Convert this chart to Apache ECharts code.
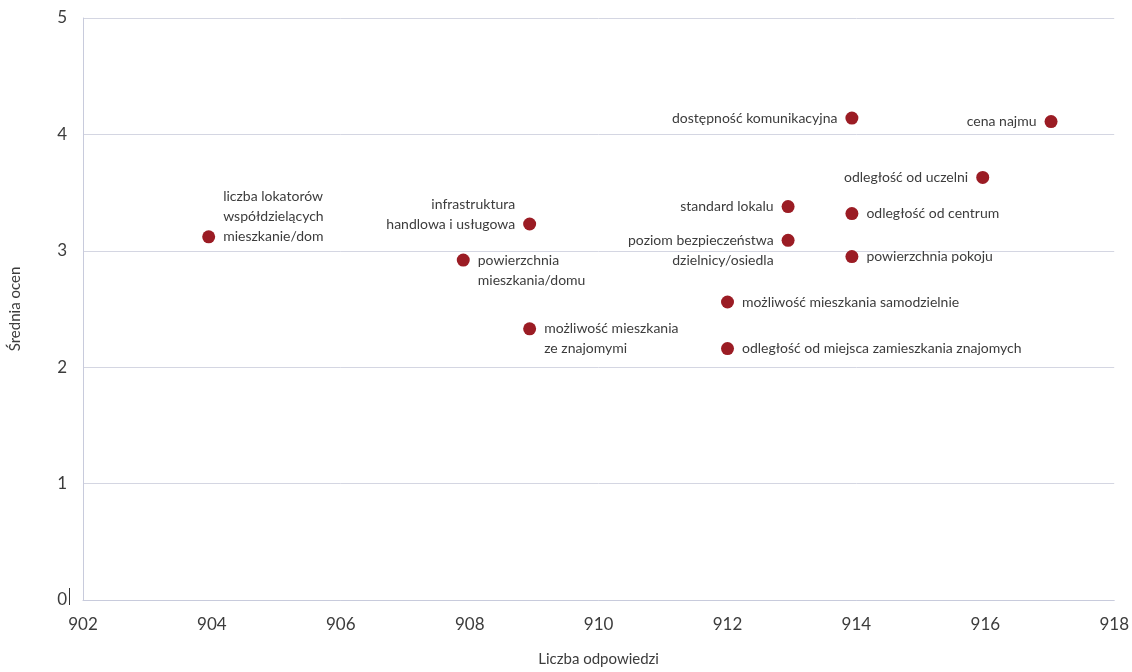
<!DOCTYPE html>
<html><head><meta charset="utf-8">
<script src="https://cdn.jsdelivr.net/npm/echarts@6/dist/echarts.min.js"></script>
<style>html,body{margin:0;padding:0;background:#fff}#c{width:1132px;height:672px}</style>
</head><body><div id="c"></div>
<script>
const factors = ['liczba lokatorów\nwspółdzielących\nmieszkanie/dom','infrastruktura\nhandlowa i usługowa','powierzchnia\nmieszkania/domu','możliwość mieszkania\nze znajomymi','dostępność komunikacyjna','cena najmu','odległość od uczelni','standard lokalu','odległość od centrum','poziom bezpieczeństwa\ndzielnicy/osiedla','powierzchnia pokoju','możliwość mieszkania samodzielnie','odległość od miejsca zamieszkania znajomych'];
const responses = [903.95, 908.93, 907.9, 908.93, 913.93, 917.02, 915.96, 912.94, 913.93, 912.94, 913.93, 912.0, 912.0];
const meanScores = [3.12, 3.23, 2.92, 2.33, 4.14, 4.11, 3.63, 3.38, 3.32, 3.09, 2.95, 2.56, 2.16];
const xTicks = ['902','904','906','908','910','912','914','916','918'];
const yTicks = ['0','1','2','3','4','5'];

// label placement per point: side and vertical anchoring (first/last line at dot)
const placement = [
  ['right','last'],['left','last'],['right','first'],['right','first'],
  ['left','mid'],['left','mid'],['left','mid'],['left','mid'],
  ['right','mid'],['left','first'],['right','mid'],['right','mid'],['right','mid']
];
const LH = 20;
const data = factors.map((n,i)=>{
  const lines = n.split('\n').length;
  const [side, anchor] = placement[i];
  let dy = 0;
  if (anchor==='first') dy = (lines-1)*LH/2;
  if (anchor==='last') dy = -(lines-1)*LH/2;
  return {
    value:[responses[i], meanScores[i]], name:n,
    label:{show:true, position:side, distance:8, offset:[0,dy], formatter:n}
  };
});

const chart = echarts.init(document.getElementById('c'));
chart.setOption({
  animation:false,
  textStyle:{fontFamily:'Lato'},
  grid:{left:83,right:14,top:18,bottom:67,containLabel:false},
  xAxis:{
    type:'value', min:902, max:918, interval:2,
    name:'Liczba odpowiedzi', nameLocation:'middle', nameGap:52,
    nameTextStyle:{color:'#3c3c3c',fontSize:15,fontFamily:'Lato'},
    axisLine:{show:true,lineStyle:{color:'#c8cbdc'}},
    axisTick:{show:false},
    splitLine:{show:false},
    axisLabel:{color:'#3c3c3c',fontSize:17,margin:16,formatter:v=>xTicks[Math.round((v-902)/2)]}
  },
  yAxis:{
    type:'value', min:0, max:5, interval:1,
    name:'Średnia ocen', nameLocation:'middle', nameGap:60,
    nameTextStyle:{color:'#3c3c3c',fontSize:15,fontFamily:'Lato'},
    axisLine:{show:true,lineStyle:{color:'#c8cbdc'}},
    axisTick:{show:false},
    splitLine:{show:true,lineStyle:{color:'#d4d6e2'}},
    axisLabel:{color:'#3c3c3c',fontSize:17,margin:16,formatter:v=>yTicks[v]}
  },
  series:[{
    type:'scatter', symbolSize:13,
    itemStyle:{color:'#9b1c24',opacity:1},
    label:{color:'#3c3c3c',fontSize:14,lineHeight:LH,fontFamily:'Lato'},
    emphasis:{disabled:true},
    data:data
  }],
  graphic:[{type:'line',shape:{x1:69.5,y1:588,x2:69.5,y2:605},style:{stroke:'#333',lineWidth:1}}]
});
</script></body></html>
